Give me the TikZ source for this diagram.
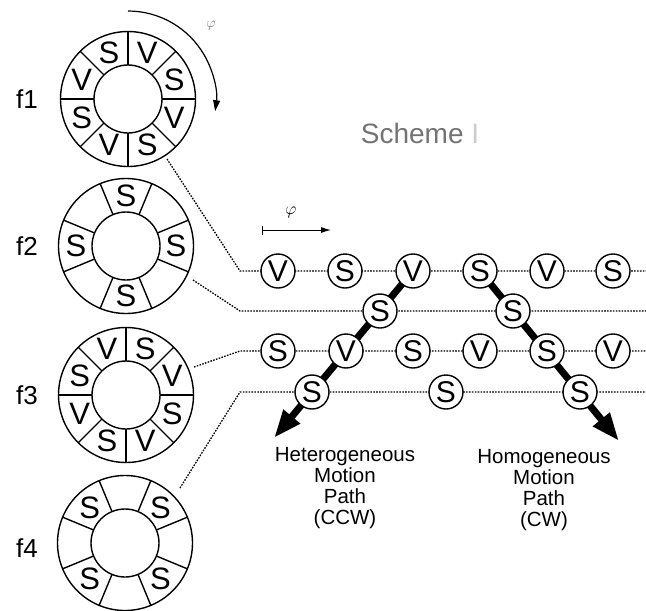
\documentclass[tikz,border=0pt]{standalone}
\usepackage{fontspec}
\setmainfont{Liberation Sans}
\usetikzlibrary{arrows.meta}
\begin{document}
\begin{tikzpicture}[x=1pt,y=-1pt,
  ringline/.style={line width=1.4pt},
  ringtxt/.style={inner sep=0pt,font=\fontsize{31}{31}\selectfont},
  flabel/.style={inner sep=0pt,font=\fontsize{26}{26}\selectfont},
  ball/.style={circle,draw,line width=1.4pt,fill=white,minimum size=34pt,inner sep=0pt,font=\fontsize{30}{30}\selectfont},
  dots/.style={line width=1.3pt,dash pattern=on 1.6pt off 1.3pt},
  thick arrow/.style={line width=7pt,-{Triangle[length=28pt,width=20pt]}},
  pathtxt/.style={align=center,inner sep=0pt,font=\fontsize{20.5}{21}\selectfont}]
\useasboundingbox (0,0) rectangle (646,611);

% ring centres
\coordinate (f1) at (128,99);
\coordinate (f2) at (126,246);
\coordinate (f3) at (126,395);
\coordinate (f4) at (125,543);

% rings
\foreach \c in {f1,f2,f3,f4}
  \draw[ringline] (\c) circle (67.5pt) (\c) circle (34pt);
\foreach \c in {f1,f3}
  \foreach \a in {0,45,...,315}
    \draw[ringline] (\c) ++(\a:34pt) -- ++(\a:33.5pt);
\foreach \c in {f2,f4}
  \foreach \a in {22.5,67.5,...,337.5}
    \draw[ringline] (\c) ++(\a:34pt) -- ++(\a:33.5pt);

% ring letters
\foreach \a/\t in {67.5/V,22.5/S,-22.5/V,-67.5/S,-112.5/V,-157.5/S,157.5/V,112.5/S}
  \path (f1) ++(\a:50pt) node[ringtxt] {\t};
\foreach \a in {90,0,180,270}
  \path (f2) ++(\a:50pt) node[ringtxt] {S};
\foreach \a/\t in {112.5/V,67.5/S,22.5/V,-22.5/S,-67.5/V,-112.5/S,-157.5/V,157.5/S}
  \path (f3) ++(\a:50pt) node[ringtxt] {\t};
\foreach \a in {45,135,225,315}
  \path (f4) ++(\a:50pt) node[ringtxt] {S};

% labels
\node[flabel] (l1) at (27,99) {f1};
\node[flabel] (l2) at (27,246) {f2};
\node[flabel] (l3) at (27,395) {f3};
\node[flabel] (l4) at (27,548) {f4};

% rotation arrow around f1
\draw[line width=1.2pt,-{Triangle[length=11pt,width=7pt]}] (f1) ++(90:88pt) arc[start angle=90,end angle=-8,radius=88pt];
\node[text=black!55,font=\fontsize{14}{14}\selectfont] (phi1) at (211,26) {$\varphi$};

% Scheme title
\node[text=black!55,font=\fontsize{28}{28}\selectfont] (title) at (420,133) {Scheme \textcolor{black!20}{I}};

% phi arrow
\coordinate (pa) at (262,230);
\coordinate (pb) at (331,230);
\draw[line width=1pt,{Bar[width=9pt]}-{Latex[length=10pt,width=6pt]}] (pa) -- (pb);
\node[font=\fontsize{17}{17}\selectfont] (phi2) at (291,212) {$\varphi$};

% dotted track lines
\coordinate (s1) at (167,159); \coordinate (k1) at (240,271); \coordinate (e1) at (646,271);
\coordinate (s2) at (193,280); \coordinate (k2) at (240,311); \coordinate (e2) at (646,311);
\coordinate (s3) at (194,367); \coordinate (k3) at (240,351); \coordinate (e3) at (646,351);
\coordinate (s4) at (180,488); \coordinate (k4) at (240,392); \coordinate (e4) at (646,392);
\draw[dots] (s1) -- (k1) -- (e1);
\draw[dots] (s2) -- (k2) -- (e2);
\draw[dots] (s3) -- (k3) -- (e3);
\draw[dots] (s4) -- (k4) -- (e4);

% motion paths
\coordinate (tipL) at (274,438);
\coordinate (tipR) at (619,441);
\draw[thick arrow] (413,271) -- (tipL);
\draw[thick arrow] (480,271) -- (tipR);

% balls
\foreach \x/\t [count=\i] in {278/V,345/S,413/V,480/S,547/V,613/S}
  \node[ball] (a\i) at (\x,271) {\t};
\foreach \x/\t [count=\i] in {380/S,513/S}
  \node[ball] (b\i) at (\x,311) {\t};
\foreach \x/\t [count=\i] in {278/S,346/V,413/S,480/V,547/S,613/V}
  \node[ball] (c\i) at (\x,351) {\t};
\foreach \x/\t [count=\i] in {312/S,446/S,580/S}
  \node[ball] (d\i) at (\x,392) {\t};

% path labels
\node[pathtxt] (het) at (345,488) {Heterogeneous\\Motion\\Path\\(CCW)};
\node[pathtxt] (hom) at (544,490) {Homogeneous\\Motion\\Path\\(CW)};
\end{tikzpicture}
\end{document}
